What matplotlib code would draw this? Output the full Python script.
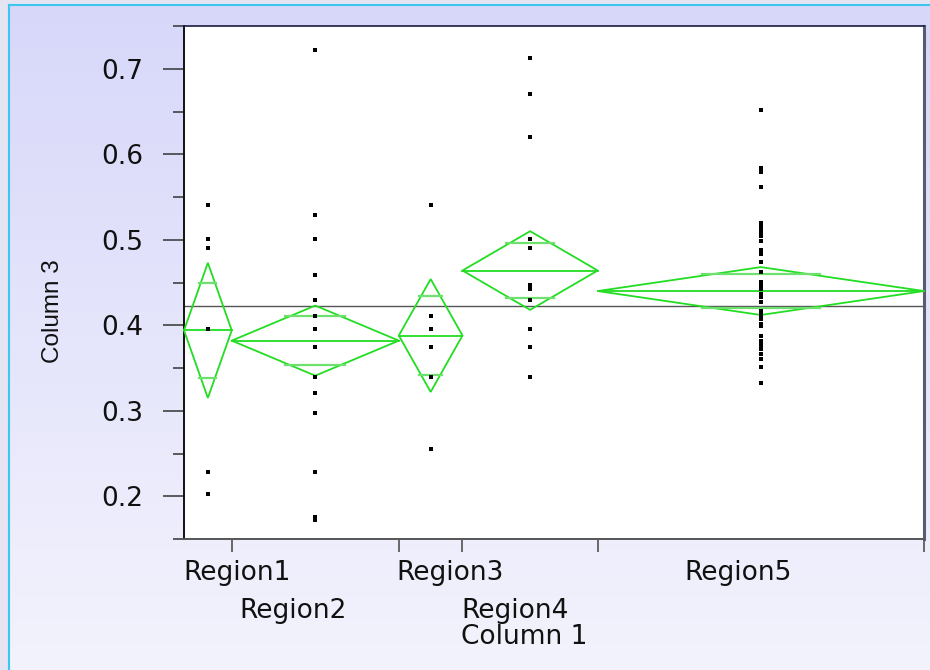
import numpy as np
import matplotlib
matplotlib.use("Agg")
import matplotlib.pyplot as plt
from matplotlib.lines import Line2D
from matplotlib.patches import Polygon, Rectangle

# ---------------- data ----------------
regions = ["Region1", "Region2", "Region3", "Region4", "Region5"]
group_n = [6, 21, 8, 17, 41]                       # group sizes (diamond widths)
group_mean = [0.394, 0.382, 0.388, 0.464, 0.440]   # group means
group_ci = [0.079, 0.041, 0.066, 0.046, 0.028]    # 95% CI half widths
grand_mean = 0.422

points_r1 = [0.541, 0.501, 0.490, 0.396, 0.228, 0.203]
points_r2 = [0.722, 0.529, 0.501, 0.459, 0.430, 0.411, 0.396, 0.375, 0.339,
             0.321, 0.297, 0.228, 0.176, 0.172]
points_r3 = [0.541, 0.411, 0.396, 0.375, 0.339, 0.255]
points_r4 = [0.713, 0.671, 0.620, 0.501, 0.490, 0.447, 0.442, 0.429, 0.396,
             0.375, 0.339]
points_r5 = [0.652, 0.584, 0.579, 0.562, 0.520, 0.515, 0.511, 0.508, 0.504,
             0.499, 0.488, 0.483, 0.474, 0.462, 0.451, 0.447, 0.442, 0.437,
             0.433, 0.427, 0.417, 0.412, 0.407, 0.402, 0.399, 0.387, 0.382,
             0.377, 0.372, 0.366, 0.361, 0.351, 0.333]
group_points = [points_r1, points_r2, points_r3, points_r4, points_r5]

y_ticks = [0.2, 0.3, 0.4, 0.5, 0.6, 0.7]
y_tick_labels = ["0.2", "0.3", "0.4", "0.5", "0.6", "0.7"]
y_minor = [0.15, 0.25, 0.35, 0.45, 0.55, 0.65, 0.75]
x_title = "Column 1"
y_title = "Column 3"

# ---------------- style / layout ----------------
W, H = 930, 670
GREEN = "#22DD22"
GREEN_LIGHT = "#6EE06E"
label_left_px = [183, 239, 396, 461, 684]
label_base_px = [580, 618, 580, 618, 580]
FS = 19

fig = plt.figure(figsize=(W / 100, H / 100), dpi=100)

# background gradient
bg = fig.add_axes([0, 0, 1, 1], zorder=-10)
top_c = np.array([0.843, 0.843, 0.980])
bot_c = np.array([0.953, 0.953, 0.992])
t = np.linspace(0, 1, 256)[:, None, None]
grad = top_c[None, None, :] * (1 - t) + bot_c[None, None, :] * t
bg.imshow(grad, aspect="auto", extent=[0, 1, 0, 1])
bg.set_xlim(0, 1)
bg.set_ylim(0, 1)
bg.axis("off")
fig.add_artist(Rectangle((0, 0), 8 / W, 1, transform=fig.transFigure,
                         color="#E4E4F2", zorder=-5))
fig.add_artist(Rectangle((0, 1 - 4 / H), 1, 4 / H, transform=fig.transFigure,
                         color="#E4E4F2", zorder=-5))
fig.add_artist(Line2D([8.5 / W, 8.5 / W], [0, 1 - 4.5 / H], transform=fig.transFigure,
                      color="#3EC6F2", lw=1.5))
fig.add_artist(Line2D([8.5 / W, 1], [1 - 4.5 / H, 1 - 4.5 / H], transform=fig.transFigure,
                      color="#3EC6F2", lw=1.5))

left, right, top, bottom = 184, 924, 26, 539
ax = fig.add_axes([left / W, 1 - bottom / H, (right - left) / W, (bottom - top) / H],
                  zorder=1)
ax.set_facecolor("white")

edges = np.concatenate([[0], np.cumsum(group_n)])
ax.set_xlim(edges[0], edges[-1])
ax.set_ylim(0.15, 0.75)

# grand mean
ax.axhline(grand_mean, color="#555555", lw=1.0, zorder=2)

for i in range(len(regions)):
    x0, x1 = edges[i], edges[i + 1]
    xc = (x0 + x1) / 2
    m, h = group_mean[i], group_ci[i]
    dia = Polygon([(x0, m), (xc, m + h), (x1, m), (xc, m - h)], closed=True,
                  fill=False, edgecolor=GREEN, lw=1.3, zorder=3, clip_on=False)
    ax.add_patch(dia)
    ax.plot([x0, x1], [m, m], color=GREEN, lw=1.3, zorder=3, clip_on=False)
    d = h / np.sqrt(2)
    s = 0.18 * (x1 - x0)
    for yy in (m + d, m - d):
        ax.plot([xc - s, xc + s], [yy, yy], color=GREEN_LIGHT, lw=1.6, zorder=3)
    pts = group_points[i]
    ax.plot([xc] * len(pts), pts, linestyle="none", marker="s", markersize=3.0,
            color="black", markeredgewidth=0, zorder=4)

# y axis
ax.set_yticks(y_ticks)
ax.set_yticklabels(y_tick_labels)
ax.set_yticks(y_minor, minor=True)
ax.tick_params(axis="y", which="major", length=15, width=1.1, color="#333333",
               pad=14, labelsize=FS, labelcolor="#111111")
ax.tick_params(axis="y", which="minor", length=8, width=1.1, color="#333333")
for lab in ax.get_yticklabels():
    lab.set_family("DejaVu Sans")

# x axis
ax.set_xticks(edges[1:])
ax.set_xticklabels([])
ax.tick_params(axis="x", which="major", length=9.5, width=1.1, color="#444444")

ax.spines["left"].set_color("#111111")
ax.spines["left"].set_linewidth(1.4)
ax.spines["bottom"].set_color("#555555")
ax.spines["bottom"].set_linewidth(1.4)
ax.spines["top"].set_color("#1A1A40")
ax.spines["top"].set_linewidth(1.2)
ax.spines["right"].set_color("#5A5A70")
ax.spines["right"].set_linewidth(2.2)

# category labels
for name, lx, ly in zip(regions, label_left_px, label_base_px):
    fig.text(lx / W, 1 - ly / H, name, ha="left", va="baseline",
             fontsize=FS, family="DejaVu Sans", color="#111111")
fig.text(461 / W, 1 - 644 / H, x_title, ha="left", va="baseline",
         fontsize=FS, family="DejaVu Sans", color="#111111")

fig.text(53 / W, 1 - 311 / H, y_title, rotation=90, ha="center", va="center",
         fontsize=17.5, family=["Liberation Sans Narrow", "DejaVu Sans Condensed",
                                "Liberation Sans"], color="#111111")

fig.savefig("out.png", dpi=100)
